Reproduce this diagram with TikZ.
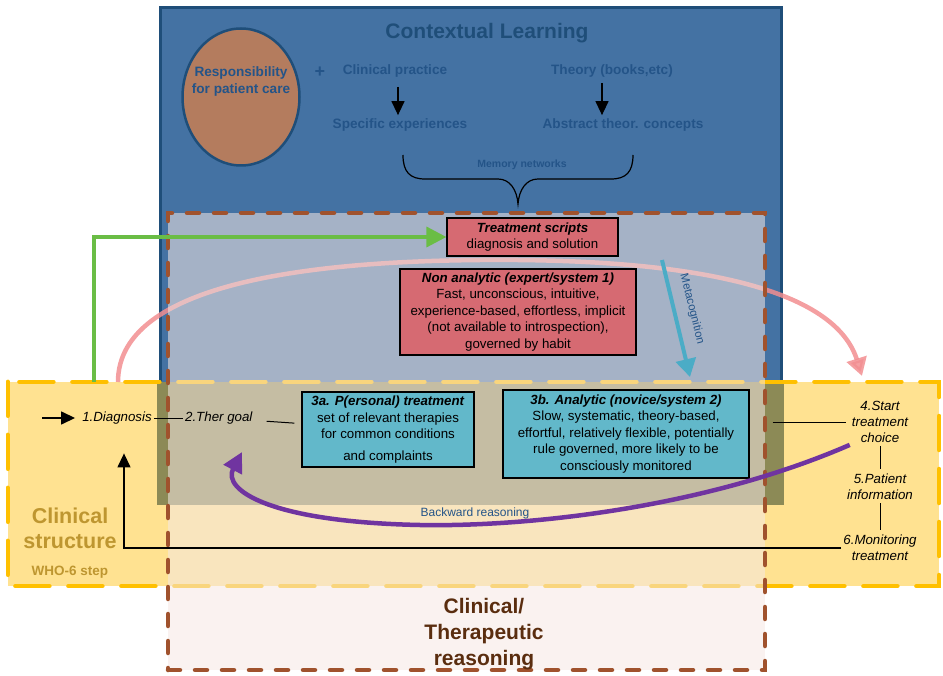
\documentclass[tikz,border=0pt]{standalone}
\usepackage{fontspec}
\setmainfont{Liberation Sans}
\usepackage{tikz}
\usetikzlibrary{arrows.meta,positioning,shapes.geometric,calc}
\definecolor{ink}{RGB}{31,78,121}
\definecolor{learnblue}{RGB}{68,114,163}
\definecolor{navytext}{RGB}{36,84,136}
\definecolor{amber}{RGB}{255,192,0}
\definecolor{paley}{RGB}{255,226,145}
\definecolor{strucolive}{RGB}{140,138,86}
\definecolor{rust}{RGB}{160,82,45}
\definecolor{blush}{RGB}{245,232,228}
\definecolor{rosebox}{RGB}{214,106,114}
\definecolor{tealbox}{RGB}{98,184,202}
\definecolor{clay}{RGB}{180,124,94}
\definecolor{leaf}{RGB}{106,189,69}
\definecolor{salmon}{RGB}{242,142,145}
\definecolor{metacyan}{RGB}{75,172,198}
\definecolor{backviolet}{RGB}{112,52,160}
\definecolor{gold}{RGB}{190,150,48}
\definecolor{umber}{RGB}{90,45,15}

\begin{document}
\begin{tikzpicture}[x=1pt,y=-1pt,
      font=\fontsize{13.3}{16.5}\selectfont,
      learnbox/.style={draw=ink,line width=3pt,fill=learnblue,inner sep=0pt},
      structfill/.style={fill=paley,inner sep=0pt},
      structline/.style={draw=amber,line width=4.5pt,line cap=round,dash pattern=on 34pt off 19pt},
      reasonbox/.style={draw=rust,line width=4.5pt,line cap=round,dash pattern=on 12pt off 15pt,
                        fill=blush,fill opacity=0.55,inner sep=0pt},
      script/.style={draw=black,line width=1.2pt,fill=rosebox,align=center,inner sep=2pt},
      analytic/.style={script,fill=tealbox},
      whostage/.style={font=\fontsize{13.3}{16}\selectfont\itshape,align=center,inner sep=2pt},
      topic/.style={font=\fontsize{13.6}{17}\selectfont\bfseries,text=navytext,align=center},
      blk/.style={-{Triangle[length=14pt,width=13pt]},line width=1.3pt},
      link/.style={line width=1pt},
      greenar/.style={-{Triangle[length=20pt,width=20pt]},line width=3.5pt,color=leaf},
      pinkar/.style={-{Triangle[length=18pt,width=20pt]},line width=4.5pt,color=salmon,opacity=0.85},
      metaar/.style={-{Triangle[length=18pt,width=20pt]},line width=4pt,color=metacyan},
      backar/.style={-{Triangle[length=20pt,width=20pt]},line width=4.5pt,color=backviolet}]
      \useasboundingbox (0,0) rectangle (943,676);
      % frames
      \node[learnbox,minimum width=621pt,minimum height=494pt] (learn) at (470.5,255) {};
      \node[structfill,minimum width=931pt,minimum height=204pt] (struct) at (473.5,484) {};
      \fill[strucolive] ([xshift=-1.5pt]learn.west |- struct.north) rectangle ([xshift=1.5pt,yshift=-1.5pt]learn.south east);
      \draw[structline] (struct.north west) rectangle (struct.south east);
      \coordinate (gstart) at (94,382);
      \coordinate (pstart) at (118,382);
      \coordinate (pend) at (862,376);
      \draw[pinkar] (pstart) .. controls (118,300) and (250,262) .. (480,260) .. controls (700,258) and (835,290) .. (pend);
      \node[reasonbox,minimum width=597pt,minimum height=457pt] (reason) at (466.5,441.5) {};
      % contextual learning
      \node[font=\fontsize{21}{24}\selectfont\bfseries,text=ink] (ctxtitle) at (487,33) {Contextual Learning};
      \node[ellipse,draw=ink,line width=2.5pt,fill=clay,minimum width=117pt,minimum height=137pt] (resp) at (241,97) {};
      \node[topic] (resptext) at (241,81) {Responsibility\\for patient care};
      \node[topic,font=\fontsize{18}{18}\selectfont\bfseries] (plus) at (320,72) {+};
      \node[topic] (practice) at (395,71) {Clinical practice};
      \node[topic] (theory) at (612,71) {Theory (books,etc)};
      \node[topic] (specific) at (400,125) {Specific experiences};
      \node[topic] (abstract) at (623,125) {Abstract theor. concepts};
      \draw[blk,shorten <=6pt] ([xshift=3pt]practice.south) -- ([xshift=3pt]practice.south |- specific.north);
      \draw[blk,shorten <=2pt] ([xshift=-10pt]theory.south) -- ([xshift=-10pt]theory.south |- abstract.north);
      \node[font=\fontsize{10.5}{12}\selectfont\bfseries,text=navytext] (memory) at (522,165) {Memory networks};
      \draw[line width=1.2pt] (403,155) .. controls (403,172) and (410,179) .. (425,179) -- (498,179)
            .. controls (510,179) and (517,190) .. (518,204) .. controls (519,190) and (526,179) .. (538,179)
            -- (611,179) .. controls (626,179) and (633,172) .. (633,155);
      % reasoning boxes
      \node[script,minimum width=171pt,minimum height=38pt] (scripts) at (532.5,237) {\textbf{\textit{Treatment scripts}}\\diagnosis and solution};
      \node[script,minimum width=236pt,minimum height=86pt] (nonana) at (518,312) {\textbf{\textit{Non analytic (expert/system 1)}}\\Fast, unconscious, intuitive,\\experience-based, effortless, implicit\\(not available to introspection),\\governed by habit};
      \node[analytic,minimum width=172pt,minimum height=75pt] (pers) at (388,429.5) {\textbf{\textit{3a. P(ersonal) treatment}}\\set of relevant therapies\\for common conditions\\[5pt]and complaints};
      \node[analytic,minimum width=246pt,minimum height=88pt] (anal) at (626,434) {\textbf{\textit{3b. Analytic (novice/system 2)}}\\Slow, systematic, theory-based,\\effortful, relatively flexible, potentially\\rule governed, more likely to be\\consciously monitored};
      % WHO steps
      \node[whostage] (diag) at (117,418) {1.Diagnosis};
      \node[whostage,right=29pt of diag] (goal) {2.Ther goal};
      \node[whostage] (start) at (880,422) {4.Start\\treatment\\choice};
      \node[whostage] (patient) at (880,487) {5.Patient\\information};
      \node[whostage] (monitor) at (880,548) {6.Monitoring\\treatment};
      \node[font=\fontsize{21.5}{25}\selectfont\bfseries,text=gold,align=center] (structtitle) at (70,528) {Clinical\\structure};
      \node[font=\fontsize{13.5}{15}\selectfont\bfseries,text=gold] (whotitle) at (70,572) {WHO-6 step};
      \node[font=\fontsize{21}{26}\selectfont\bfseries,text=umber,align=center] (reasontitle) at (484,634) {Clinical/\\Therapeutic\\reasoning};
      % connectors
      \coordinate (entry) at (42,418);
      \draw[blk,line width=1.5pt,shorten >=5pt] (entry) -- (diag.west);
      \draw[link] (diag) -- (goal);
      \draw[link,shorten <=12pt,shorten >=7pt] (goal) -- (pers);
      \draw[link,shorten <=23pt,shorten >=4pt] (anal.east |- start.west) -- (start.west);
      \draw[link,shorten <=1pt,shorten >=3pt] (start.south) -- (patient.north);
      \draw[link,shorten <=1pt,shorten >=3pt] (patient.south) -- (monitor.north);
      \draw[blk,shorten >=27pt] (monitor.west) -| ([xshift=7pt]diag.south);
      \draw[greenar] (gstart) |- (scripts.west);
      \coordinate (mstart) at (662,260);
      \coordinate (mend) at (690,377);
      \draw[metaar] (mstart) -- (mend);
      \node[rotate=-76,text=navytext,font=\fontsize{11.5}{13}\selectfont] (metalabel) at (692,309) {Metacognition};
      \coordinate (bend) at (242,452);
      \draw[backar] (start.south west) .. controls (700,510) and (520,527) .. (420,525) .. controls (270,522) and (222,490) .. (bend);
      \node[text=navytext,font=\fontsize{12}{14}\selectfont] (backlabel) at (475,513) {Backward reasoning};
    \end{tikzpicture}
\end{document}
